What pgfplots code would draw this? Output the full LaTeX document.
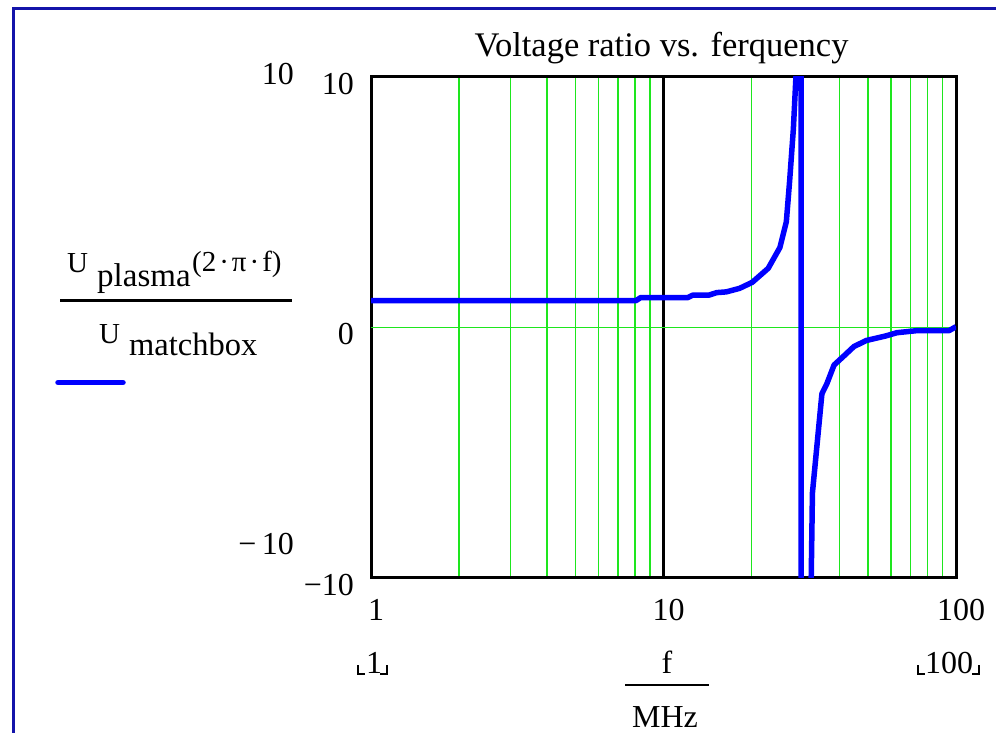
\documentclass[border=0pt]{standalone}
\usepackage{fontspec}
\setmainfont{Liberation Serif}
\usepackage{pgfplots}
\usepackage{pgfplotstable}
\pgfplotsset{compat=1.18}

\definecolor{framecol}{RGB}{20,20,170}
\definecolor{gridgreen}{RGB}{30,230,30}
\definecolor{curveblue}{RGB}{0,0,255}
\newcommand{\fs}[1]{\fontsize{#1}{#1}\selectfont}
\newcommand{\md}{\kern3pt·\kern3pt}

% U_plasma(2*pi*f)/U_matchbox sampled over 1..100 MHz
\pgfplotstableread{
f     v
1     1.07
8.05  1.07
8.35  1.19
12.1  1.19
12.6  1.29
14.3  1.29
15.2  1.39
16.4  1.42
18.2  1.56
20.1  1.80
22.8  2.36
25.0  3.19
26.3  4.22
27.0  5.87
27.8  7.93
28.5  10.5
29.5  200
29.55 -200
31.9  -11
32.3  -6.6
34.8  -2.65
36.2  -2.24
38.3  -1.50
41.1  -1.17
44.8  -0.76
49.4  -0.52
53.3  -0.43
57.5  -0.34
62.8  -0.21
73.2  -0.13
94.6  -0.13
100   0.03
}\ratio

\begin{document}
\begin{tikzpicture}[x=1pt,y=1pt]
\useasboundingbox (0,0) rectangle (996,-733);
% worksheet region frame
\draw[framecol, line width=3pt] (13.5,-760) -- (13.5,-8.5) -- (1020,-8.5);

\begin{axis}[
  at={(371pt,-578pt)}, anchor=south west,
  scale only axis, width=585pt, height=501pt,
  xmode=log, xmin=1, xmax=100, ymin=-10, ymax=10,
  axis line style={black, line width=3pt},
  major tick length=0pt, minor tick length=0pt,
  xtick={1,100}, xticklabels={1,100},
  extra x ticks={10}, extra x tick labels={10},
  extra x tick style={grid=major, major grid style={black, line width=2.4pt}},
  minor xtick={2,3,4,5,6,7,8,9,20,30,40,50,60,70,80,90},
  xminorgrids=true,
  minor grid style={gridgreen, line width=1.5pt},
  ytick={-10,10}, yticklabels={−10,10},
  extra y ticks={0}, extra y tick labels={0},
  extra y tick style={grid=major, major grid style={gridgreen, line width=1.8pt}},
  tick label style={font=\fs{32}},
  xticklabel style={anchor=north, inner sep=0pt, yshift=-21pt, xshift=5pt},
  yticklabel style={anchor=east, inner sep=0pt, xshift=-17pt, yshift=-7pt},
]
\addplot[curveblue, line width=5.5pt, line join=round] table[x=f, y=v] {\ratio};
\end{axis}

% title
\node[anchor=base, inner sep=0pt, font=\fs{34.5}] at (661.5,-57) {Voltage ratio vs. ferquency};

% y-range fields
\node[anchor=base east, inner sep=0pt, font=\fs{32}] at (294,-85) {10};
\node[anchor=base east, inner sep=0pt, font=\fs{32}] at (294,-554) {−\,10};

% y-axis expression
\node[anchor=base west, inner sep=0pt, font=\fs{29}] at (67,-272) {U};
\node[anchor=base west, inner sep=0pt, font=\fs{33}] at (97,-286) {plasma};
\node[anchor=base west, inner sep=0pt, font=\fs{29}] at (192,-271) {(2\md π\md f)};
\draw[line width=2.5pt] (60,-300.7) -- (292,-300.7);
\node[anchor=base west, inner sep=0pt, font=\fs{29}] at (99,-343) {U};
\node[anchor=base west, inner sep=0pt, font=\fs{32.5}] at (129,-355) {matchbox};
\draw[curveblue, line width=5.5pt, line cap=round] (58,-382.5) -- (123,-382.5);

% x-axis expression
\node[anchor=base, inner sep=0pt, font=\fs{32}] at (667,-673) {f};
\draw[line width=2.5pt] (625,-685) -- (709,-685);
\node[anchor=base, inner sep=0pt, font=\fs{32}] at (665,-727) {MHz};

% x-range fields
\node[anchor=base, inner sep=0pt, font=\fs{32}] at (374,-673) {1};
\draw[line width=2.2pt] (358,-665) -- (358,-674) -- (365,-674);
\draw[line width=2.2pt] (380,-674) -- (387,-674) -- (387,-665);
\node[anchor=base, inner sep=0pt, font=\fs{32}] at (949,-673) {100};
\draw[line width=2.2pt] (918,-665) -- (918,-674) -- (925,-674);
\draw[line width=2.2pt] (972,-674) -- (979,-674) -- (979,-665);
\end{tikzpicture}
\end{document}
